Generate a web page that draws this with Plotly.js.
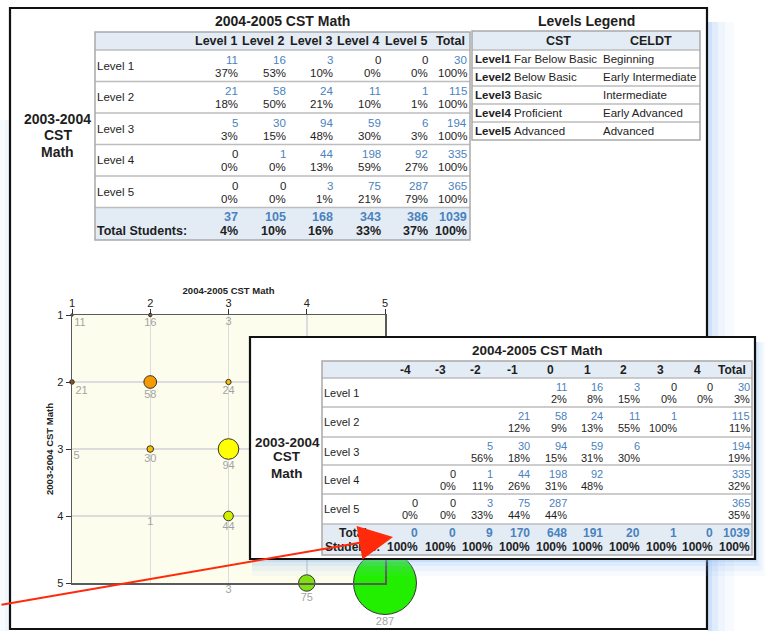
<!DOCTYPE html>
<html><head><meta charset="utf-8">
<script src="https://cdn.plot.ly/plotly-3.0.1.min.js"></script>
<style>html,body{margin:0;padding:0;background:#fff}#chart{width:765px;height:631px}</style>
</head><body><div id="chart"></div>
<script>
// ---------------- DATA ----------------
const levelNames = ['Level 1', 'Level 2', 'Level 3', 'Level 4', 'Level 5'];
const levelNumbers = [1, 2, 3, 4, 5];
const nextLevelHeaders = ['Level 1', 'Level 2', 'Level 3', 'Level 4', 'Level 5', 'Total'];
// rows = 2003-2004 level, columns = 2004-2005 level
const countsFromLevel1 = [11, 16, 3, 0, 0];
const countsFromLevel2 = [21, 58, 24, 11, 1];
const countsFromLevel3 = [5, 30, 94, 59, 6];
const countsFromLevel4 = [0, 1, 44, 198, 92];
const countsFromLevel5 = [0, 0, 3, 75, 287];
const rowTotals = [30, 115, 194, 335, 365];
const pctFromLevel1 = [37, 53, 10, 0, 0];
const pctFromLevel2 = [18, 50, 21, 10, 1];
const pctFromLevel3 = [3, 15, 48, 30, 3];
const pctFromLevel4 = [0, 0, 13, 59, 27];
const pctFromLevel5 = [0, 0, 1, 21, 79];
const rowTotalPct = [100, 100, 100, 100, 100];
const columnTotals = [37, 105, 168, 343, 386, 1039];
const columnTotalPct = [4, 10, 16, 33, 37, 100];

// change in level (2004-2005 minus 2003-2004)
const changeHeaders = ['-4', '-3', '-2', '-1', '0', '1', '2', '3', '4', 'Total'];
const changeCountsLevel1 = [null, null, null, null, 11, 16, 3, 0, 0];
const changeCountsLevel2 = [null, null, null, 21, 58, 24, 11, 1, null];
const changeCountsLevel3 = [null, null, 5, 30, 94, 59, 6, null, null];
const changeCountsLevel4 = [null, 0, 1, 44, 198, 92, null, null, null];
const changeCountsLevel5 = [0, 0, 3, 75, 287, null, null, null, null];
const changePctLevel1 = [null, null, null, null, 2, 8, 15, 0, 0];
const changePctLevel2 = [null, null, null, 12, 9, 13, 55, 100, null];
const changePctLevel3 = [null, null, 56, 18, 15, 31, 30, null, null];
const changePctLevel4 = [null, 0, 11, 26, 31, 48, null, null, null];
const changePctLevel5 = [0, 0, 33, 44, 44, null, null, null, null];
const changeRowTotalPct = [3, 11, 19, 32, 35];
const changeTotals = [0, 0, 9, 170, 648, 191, 20, 1, 0, 1039];
const changeTotalPct = [100, 100, 100, 100, 100, 100, 100, 100, 100, 100];

// legend
const legendLevels = ['Level1', 'Level2', 'Level3', 'Level4', 'Level5'];
const cstNames = ['Far Below Basic', 'Below Basic', 'Basic', 'Proficient', 'Advanced'];
const celdtNames = ['Beginning', 'Early Intermediate', 'Intermediate', 'Early Advanced', 'Advanced'];

const transitionCounts = [countsFromLevel1, countsFromLevel2, countsFromLevel3, countsFromLevel4, countsFromLevel5];
const transitionPct = [pctFromLevel1, pctFromLevel2, pctFromLevel3, pctFromLevel4, pctFromLevel5];
const changeCounts = [changeCountsLevel1, changeCountsLevel2, changeCountsLevel3, changeCountsLevel4, changeCountsLevel5];
const changePct = [changePctLevel1, changePctLevel2, changePctLevel3, changePctLevel4, changePctLevel5];

// ---------------- STYLE / LAYOUT ----------------
const FONT = 'Liberation Sans, Arial, sans-serif';
const BLUE = '#4a82bd';
const INK = '#1e1e1e';
const HEAD_FILL = '#e3ecf5';
const BORDER = '#a9a9a9';
const ROWLINE = '#bdbdbd';
const W = 765, H = 631;
const px = v => v / W, py = v => 1 - v / H;

const traces = [];
const shapesBelow = [], shapesAbove = [], annotations = [];

// ---- bubble chart ----
const bx = [], by = [], bs = [], bt = [], bc = [], bpos = [], bop = [];
transitionCounts.forEach((row, r) => row.forEach((v, c) => {
  if (v > 0) {
    bx.push(levelNumbers[c]); by.push(levelNumbers[r]); bs.push(v); bt.push(String(v));
    bc.push(levelNumbers[c] + levelNumbers[r]);
    bpos.push(c === 0 ? 'bottom right' : 'bottom center');
    bop.push(v >= 10 ? 1 : 0);
  }
}));
const SIZEREF = 4.56;
traces.push({
  type: 'scatter', mode: 'markers', x: bx, y: by, cliponaxis: false, hoverinfo: 'skip',
  marker: {
    size: bs, sizemode: 'diameter', sizeref: SIZEREF, opacity: bop,
    color: bc, cmin: 2, cmax: 10, showscale: false,
    colorscale: [[0, '#7a2a00'], [0.125, '#b04500'], [0.25, '#f59a00'], [0.375, '#f5c000'],
                 [0.5, '#ffff00'], [0.625, '#d4ee00'], [0.75, '#a8e800'], [0.875, '#80e010'], [1, '#22ee00']],
    line: {color: '#333', width: 1}
  }
});
// count labels under each bubble (invisible, slightly smaller markers set the label offset)
traces.push({
  type: 'scatter', mode: 'markers+text', x: bx, y: by, text: bt, textposition: bpos,
  cliponaxis: false, hoverinfo: 'skip',
  textfont: {family: FONT, size: 11, color: '#a3a3a3'},
  marker: {size: bs, sizemode: 'diameter', sizeref: SIZEREF / 0.84, color: 'rgba(0,0,0,0)', line: {width: 0}}
});

const axisCommon = {
  range: [1, 5], tickvals: levelNumbers, ticktext: levelNumbers.map(String),
  ticks: 'outside', ticklen: 5, tickcolor: '#333', tickwidth: 1,
  showline: true, linecolor: '#5a5a5a', linewidth: 1.5, mirror: true,
  showgrid: true, gridcolor: '#dcdcdc', gridwidth: 1.5, zeroline: false,
  tickfont: {family: FONT, size: 11, color: '#222'}, fixedrange: true
};
const layout = {
  width: W, height: H, margin: {l: 0, r: 0, t: 0, b: 0},
  paper_bgcolor: '#ffffff', plot_bgcolor: 'rgba(0,0,0,0)', showlegend: false,
  font: {family: FONT, size: 11, color: INK},
  xaxis: Object.assign({}, axisCommon, {
    domain: [px(72), px(385)], side: 'top', anchor: 'y', ticklabelstandoff: -3,
    title: {text: '2004-2005 CST Math', standoff: 1, font: {family: FONT, size: 9.5, weight: 'bold', color: '#222'}}
  }),
  yaxis: Object.assign({}, axisCommon, {
    domain: [py(583), py(315)], range: [5, 1], anchor: 'x',
    title: {text: '2003-2004 CST Math', standoff: 2, font: {family: FONT, size: 9.5, weight: 'bold', color: '#222'}}
  })
};
// cream plot area
shapesBelow.push({type: 'rect', xref: 'x', yref: 'y', x0: 1, x1: 5, y0: 1, y1: 5,
  fillcolor: '#fdfdee', line: {width: 0}, layer: 'below'});

// ---- page frame & glow ----
[[4, 0.22], [10, 0.14], [17, 0.09], [26, 0.06]].forEach(([w, a]) => {
  shapesBelow.push({type: 'rect', xref: 'paper', yref: 'paper', x0: px(708), x1: px(708 + w), y0: py(631), y1: py(22),
    fillcolor: `rgba(140,190,245,${a})`, line: {width: 0}, layer: 'below'});
});
[[4, 0.08], [9, 0.06]].forEach(([w, a]) => {
  shapesBelow.push({type: 'rect', xref: 'paper', yref: 'paper', x0: px(9 - w), x1: px(9), y0: py(631), y1: py(120),
    fillcolor: `rgba(140,190,245,${a})`, line: {width: 0}, layer: 'below'});
});
shapesBelow.push({type: 'rect', xref: 'paper', yref: 'paper', x0: px(10), x1: px(707), y0: py(629), y1: py(8),
  fillcolor: 'rgba(0,0,0,0)', line: {color: '#111', width: 2.2}, layer: 'below'});

// ---- overlay panel glow + panel ----
[[3, 0.25], [7, 0.15], [12, 0.1], [17, 0.07]].forEach(([k, a]) => {
  shapesAbove.push({type: 'rect', xref: 'paper', yref: 'paper', x0: px(252), x1: px(755 + k * 0.6), y0: py(559 + k), y1: py(342),
    fillcolor: `rgba(140,190,245,${a})`, line: {width: 0}, layer: 'above'});
});
shapesAbove.push({type: 'rect', xref: 'paper', yref: 'paper', x0: px(250), x1: px(755), y0: py(559), y1: py(337),
  fillcolor: '#ffffff', line: {color: '#111', width: 2.2}, layer: 'above'});

// ---- table helpers ----
function tableSubplot(n, left, top, width, height) {
  const pad = 4;
  layout['xaxis' + n] = {domain: [px(left - pad), px(left + width + pad)], range: [-pad, width + pad],
    visible: false, fixedrange: true, anchor: 'y' + n};
  layout['yaxis' + n] = {domain: [py(top + height + pad), py(top - pad)], range: [height + pad, -pad],
    visible: false, fixedrange: true, anchor: 'x' + n};
  traces.push({type: 'scatter', x: [], y: [], xaxis: 'x' + n, yaxis: 'y' + n, hoverinfo: 'skip', showlegend: false});
}
function cellText(n, x, y, text, xanchor, size, bold, color) {
  annotations.push({xref: 'x' + n, yref: 'y' + n, x: x, y: y, text: text, showarrow: false,
    xanchor: xanchor, yanchor: 'middle', borderpad: 0, borderwidth: 0,
    font: {family: FONT, size: size, color: color || INK, weight: bold ? 'bold' : 'normal'}});
}
function paperText(x, y, text, size, bold) {
  annotations.push({xref: 'paper', yref: 'paper', x: px(x), y: py(y), text: text, showarrow: false,
    xanchor: 'center', yanchor: 'middle', borderpad: 0, borderwidth: 0,
    font: {family: FONT, size: size, color: INK, weight: bold ? 'bold' : 'normal'}});
}
function fillRect(n, x0, y0, x1, y1, fill) {
  shapesAbove.push({type: 'rect', xref: 'x' + n, yref: 'y' + n, x0, x1, y0, y1, fillcolor: fill, line: {width: 0}, layer: 'above'});
}
function borderRect(n, x0, y0, x1, y1, color, w) {
  shapesAbove.push({type: 'rect', xref: 'x' + n, yref: 'y' + n, x0, x1, y0, y1, fillcolor: 'rgba(0,0,0,0)', line: {color, width: w}, layer: 'above'});
}
function hLine(n, x0, x1, y, color, w) {
  shapesAbove.push({type: 'line', xref: 'x' + n, yref: 'y' + n, x0, x1, y0: y, y1: y, line: {color, width: w}, layer: 'above'});
}

// ---- Table 1: level transitions ----
(function () {
  const n = 2, L = 95, T = 32, Wt = 375, Ht = 208;
  tableSubplot(n, L, T, Wt, Ht);
  const colEdges = [0, 96, 143.5, 191, 238.5, 286, 333.5, 375];
  const numRight = [143, 191, 238, 286, 333, 372];
  const rowEdges = [0, 18, 49.5, 81, 112.5, 144, 175.5, 208];
  fillRect(n, 0, rowEdges[0], Wt, rowEdges[1], HEAD_FILL);
  fillRect(n, 0, rowEdges[6], Wt, rowEdges[7], HEAD_FILL);
  for (let i = 1; i < rowEdges.length - 1; i++) hLine(n, 0, Wt, rowEdges[i], ROWLINE, 1.5);
  borderRect(n, 0, 0, Wt, Ht, BORDER, 1.5);
  paperText(282, 21, '2004-2005 CST Math', 14, true);
  paperText(58, 119, '2003-2004', 14, true);
  paperText(58, 135, 'CST', 14, true);
  paperText(58, 152, 'Math', 14, true);
  nextLevelHeaders.forEach((h, c) => cellText(n, (colEdges[c + 1] + colEdges[c + 2]) / 2 + 1, 9.5, h, 'center', 12.5, true));
  levelNames.forEach((name, r) => {
    const top = rowEdges[r + 1];
    cellText(n, 2, top + 16, name, 'left', 11.5, false);
    const counts = transitionCounts[r].concat([rowTotals[r]]);
    const pcts = transitionPct[r].concat([rowTotalPct[r]]);
    counts.forEach((v, c) => {
      cellText(n, numRight[c], top + 10, String(v), 'right', 11.5, false, (v > 0) ? BLUE : INK);
      cellText(n, numRight[c], top + 23, pcts[c] + '%', 'right', 11.5, false);
    });
  });
  const tt = rowEdges[6];
  cellText(n, 2, tt + 23.5, 'Total Students:', 'left', 12.5, true);
  columnTotals.forEach((v, c) => {
    cellText(n, numRight[c], tt + 9.5, String(v), 'right', 12.5, true, BLUE);
    cellText(n, numRight[c], tt + 23.5, columnTotalPct[c] + '%', 'right', 12.5, true);
  });
})();

// ---- Table 2: levels legend ----
(function () {
  const n = 3, L = 472, T = 31, Wt = 228, Ht = 109;
  tableSubplot(n, L, T, Wt, Ht);
  const rowEdges = [0, 19, 37, 55, 73, 91, 109];
  fillRect(n, 0, 0, Wt, rowEdges[1], HEAD_FILL);
  for (let i = 1; i < rowEdges.length - 1; i++) hLine(n, 0, Wt, rowEdges[i], ROWLINE, 1.5);
  borderRect(n, 0, 0, Wt, Ht, BORDER, 1.5);
  paperText(586, 21, 'Levels Legend', 14, true);
  cellText(n, 86, 9.5, 'CST', 'center', 12.5, true);
  cellText(n, 179, 9.5, 'CELDT', 'center', 12.5, true);
  legendLevels.forEach((lv, r) => {
    const mid = (rowEdges[r + 1] + rowEdges[r + 2]) / 2;
    cellText(n, 3, mid, lv, 'left', 11.5, true);
    cellText(n, 42, mid, cstNames[r], 'left', 11.5, false);
    cellText(n, 131, mid, celdtNames[r], 'left', 11.5, false);
  });
})();

// ---- Table 3: change in level (overlay) ----
(function () {
  const n = 4, L = 322, T = 361, Wt = 430, Ht = 194;
  tableSubplot(n, L, T, Wt, Ht);
  const numRight = [96, 134, 171, 208, 245, 281, 318, 355, 391, 428];
  const headCenter = [83, 118, 153, 190, 228, 265, 301, 338, 375, 410];
  const rowEdges = [0, 17, 46, 76, 104, 133, 163, 194];
  fillRect(n, 0, rowEdges[0], Wt, rowEdges[1], HEAD_FILL);
  fillRect(n, 0, rowEdges[6], Wt, rowEdges[7], HEAD_FILL);
  for (let i = 1; i < rowEdges.length - 1; i++) hLine(n, 0, Wt, rowEdges[i], ROWLINE, 1.5);
  borderRect(n, 0, 0, Wt, Ht, BORDER, 1.5);
  paperText(537, 350, '2004-2005 CST Math', 13.5, true);
  paperText(287, 442, '2003-2004', 13.5, true);
  paperText(287, 457, 'CST', 13.5, true);
  paperText(287, 473, 'Math', 13.5, true);
  changeHeaders.forEach((h, c) => cellText(n, headCenter[c], 9, h, 'center', 12, true));
  levelNames.forEach((name, r) => {
    const top = rowEdges[r + 1];
    cellText(n, 2, top + 15, name, 'left', 11, false);
    changeCounts[r].forEach((v, c) => {
      if (v === null) return;
      cellText(n, numRight[c], top + 8.5, String(v), 'right', 11, false, (v > 0) ? BLUE : INK);
      cellText(n, numRight[c], top + 21, changePct[r][c] + '%', 'right', 11, false);
    });
    cellText(n, numRight[9], top + 8.5, String(rowTotals[r]), 'right', 11, false, BLUE);
    cellText(n, numRight[9], top + 21, changeRowTotalPct[r] + '%', 'right', 11, false);
  });
  const tt = rowEdges[6];
  cellText(n, 31, tt + 9, 'Total', 'center', 12, true);
  cellText(n, 30, tt + 23, 'Students:', 'center', 12, true);
  changeTotals.forEach((v, c) => {
    cellText(n, numRight[c], tt + 9, String(v), 'right', 12, true, BLUE);
    cellText(n, numRight[c], tt + 23, changeTotalPct[c] + '%', 'right', 12, true);
  });
})();

// ---- red arrow ----
annotations.push({xref: 'paper', yref: 'paper', x: px(393), y: py(537), text: '', showarrow: true,
  axref: 'pixel', ayref: 'pixel', ax: -410, ay: 68, arrowhead: 2, arrowsize: 3.4, arrowwidth: 2,
  arrowcolor: '#ff2a0a', standoff: 0, startstandoff: 0});

layout.shapes = shapesBelow.concat(shapesAbove);
layout.annotations = annotations;

Plotly.newPlot('chart', traces, layout, {staticPlot: true, displayModeBar: false});
</script>
</body></html>
